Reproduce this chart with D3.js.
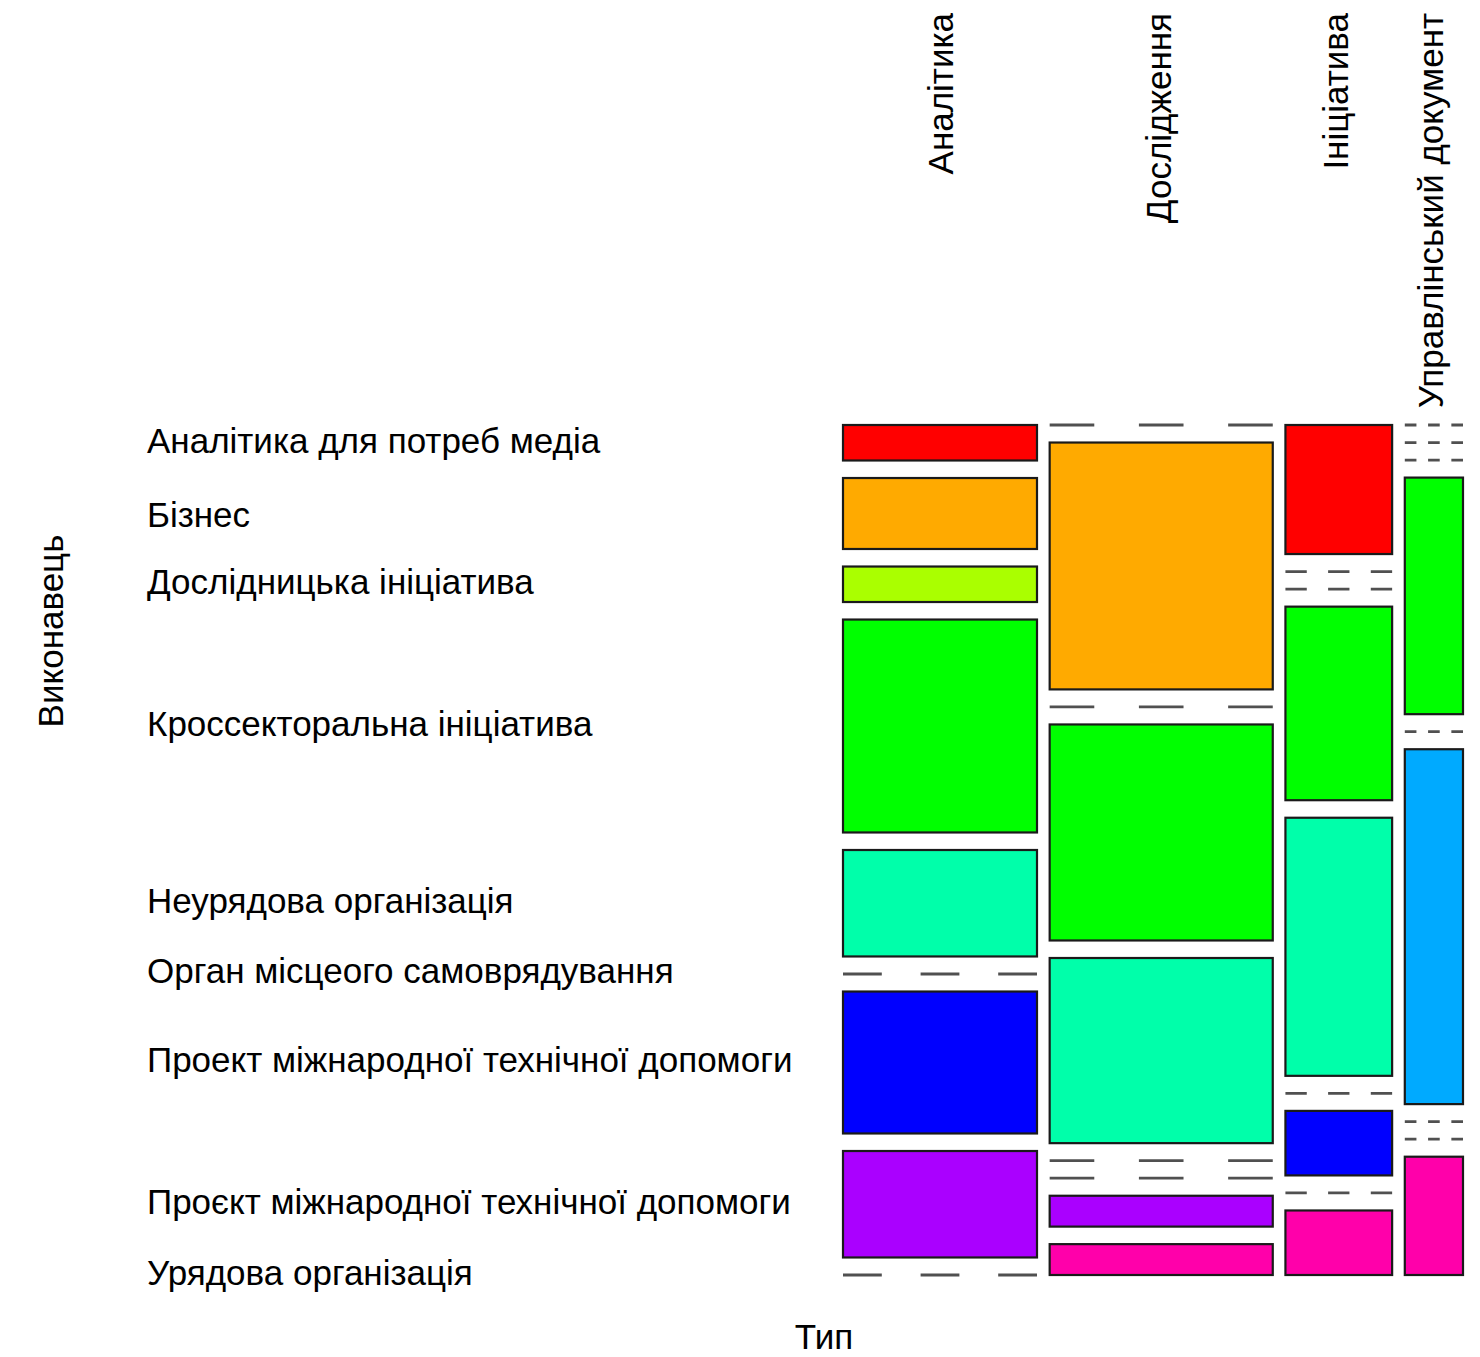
<!DOCTYPE html>
<html><head><meta charset="utf-8">
<script src="https://cdn.jsdelivr.net/npm/d3@7"></script>
<style>body{margin:0;background:#fff} svg{display:block}</style>
</head><body><svg id="c" width="1480" height="1357"></svg>
<script>
// ---- data ----
const types = ["Аналітика", "Дослідження", "Ініціатива", "Управлінський документ"];
const executors = [
  "Аналітика для потреб медіа",
  "Бізнес",
  "Дослідницька ініціатива",
  "Кроссекторальна ініціатива",
  "Неурядова організація",
  "Орган місцеого самоврядування",
  "Проект міжнародної технічної допомоги",
  "Проєкт міжнародної технічної допомоги",
  "Урядова організація"
];
const countsAnalytics  = [1, 2, 1, 6, 3, 0, 4, 3, 0];
const countsResearch   = [0, 8, 0, 7, 6, 0, 0, 1, 1];
const countsInitiative = [2, 0, 0, 3, 4, 0, 1, 0, 1];
const countsDocument   = [0, 0, 0, 2, 0, 3, 0, 0, 1];
const colors = ["#FF0000", "#FFAA00", "#AAFF00", "#00FF00", "#00FFAA", "#00AAFF", "#0000FF", "#AA00FF", "#FF00AA"];
const xTitle = "Тип";
const yTitle = "Виконавець";

// ---- layout ----
const svg = d3.select("#c");
const FONT = '"Liberation Sans", Arial, Helvetica, sans-serif';
const FS = 35;
const plotX0 = 843, plotX1 = 1463, plotY0 = 425, plotY1 = 1275;
const xGapFrac = 0.0613, yGapFrac = 0.165;

const counts = [countsAnalytics, countsResearch, countsInitiative, countsDocument];
const colTotals = counts.map(c => d3.sum(c));
const N = d3.sum(colTotals);
const nCols = types.length, nRows = executors.length;
const gapX = (plotX1 - plotX0) * xGapFrac / (nCols - 1);
const gapY = (plotY1 - plotY0) * yGapFrac / (nRows - 1);

const x = d3.scaleLinear().domain([0, N]).range([0, (plotX1 - plotX0) * (1 - xGapFrac)]);

const ctx = document.createElement("canvas").getContext("2d");
ctx.font = `${FS}px "Liberation Sans"`;
function vm(s) { const m = ctx.measureText(s); return [m.actualBoundingBoxAscent, m.actualBoundingBoxDescent]; }

const cols = [];
let cum = 0;
types.forEach((t, j) => {
  const x0 = plotX0 + x(cum) + j * gapX;
  const x1 = x0 + x(colTotals[j]);
  cum += colTotals[j];
  const y = d3.scaleLinear().domain([0, colTotals[j]]).range([0, (plotY1 - plotY0) * (1 - yGapFrac)]);
  let c2 = 0;
  const cells = counts[j].map((v, i) => {
    const y0 = plotY0 + y(c2) + i * gapY;
    const y1 = y0 + y(v);
    c2 += v;
    return { i, v, y0, y1 };
  });
  cols.push({ t, j, x0, x1, cells });
});

const g = svg.append("g");
cols.forEach(col => {
  const w = col.x1 - col.x0;
  col.cells.forEach(c => {
    if (c.v > 0) {
      g.append("rect")
        .attr("x", col.x0).attr("y", c.y0)
        .attr("width", w).attr("height", c.y1 - c.y0)
        .attr("fill", colors[c.i])
        .attr("stroke", "#1a1a1a").attr("stroke-width", 2.2);
    } else {
      g.append("line")
        .attr("x1", col.x0).attr("x2", col.x1)
        .attr("y1", c.y0).attr("y2", c.y0)
        .attr("stroke", "#505050").attr("stroke-width", 2.8)
        .attr("stroke-dasharray", `${w / 5} ${w / 5}`);
    }
  });
  // top label
  const [a, d] = vm(col.t);
  const cx = (col.x0 + col.x1) / 2;
  const b = cx + (a - d) / 2;
  svg.append("text")
    .attr("transform", `translate(${b},13) rotate(-90)`)
    .attr("text-anchor", "end")
    .attr("font-family", FONT).attr("font-size", FS).attr("fill", "#000")
    .text(col.t);
});

// left labels at first column cells
cols[0].cells.forEach(c => {
  const s = executors[c.i];
  const [a, d] = vm(s);
  const cy = (c.y0 + c.y1) / 2;
  svg.append("text")
    .attr("x", 147).attr("y", cy + (a - d) / 2)
    .attr("font-family", FONT).attr("font-size", FS).attr("fill", "#000")
    .text(s);
});

svg.append("text")
  .attr("x", 824).attr("y", 1349)
  .attr("text-anchor", "middle")
  .attr("font-family", FONT).attr("font-size", FS).attr("fill", "#000")
  .text(xTitle);

svg.append("text")
  .attr("transform", "translate(63,631) rotate(-90)")
  .attr("text-anchor", "middle")
  .attr("font-family", FONT).attr("font-size", FS).attr("fill", "#000")
  .text(yTitle);
</script>
</body></html>
